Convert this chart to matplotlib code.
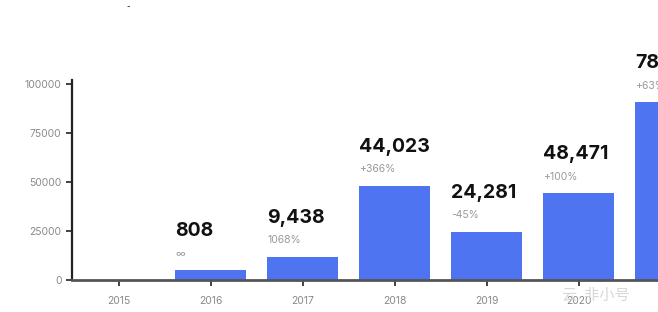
import matplotlib.pyplot as plt

# 数据
years = [2015, 2016, 2017, 2018, 2019, 2020, 2021]
bar_heights = [0, 5100, 11800, 48000, 24500, 44300, 90700]
value_labels = ['', '808', '9,438', '44,023', '24,281', '48,471', '78,000']
change_labels = ['', '∞', '1068%', '+366%', '-45%', '+100%', '+63%']

bar_color = '#4f74f2'
width = 0.77

fig = plt.figure(figsize=(6.58, 3.12), dpi=100)
ax = fig.add_axes([72 / 658, 32 / 312, 1 - 72 / 658, 200 / 312])

bars = ax.bar(years, bar_heights, width=width, color=bar_color, zorder=2)

# 막대 위 라벨 (오른쪽 끝은 그림 밖으로 잘림)
for x, h, v, c in zip(years, bar_heights, value_labels, change_labels):
    if not v:
        continue
    ax.annotate(v, (x - width / 2, h), xytext=(0, 28), textcoords='offset points',
                fontsize=14, fontweight='bold', family='Inter', color='#111111',
                ha='left', va='center', annotation_clip=False, clip_on=False)
    ax.annotate(c, (x - width / 2, h), xytext=(0, 12), textcoords='offset points',
                fontsize=7.5, family='Inter', color='#9a9a9a',
                ha='left', va='center', annotation_clip=False, clip_on=False)

ax.set_xlim(2014.49, 2020.86)
ax.set_ylim(0, 102040)
ax.set_xticks(years[:-1])
ax.set_yticks([0, 25000, 50000, 75000, 100000])
ax.set_yticklabels(['0', '25000', '50000', '75000', '100000'])

for s in ['top', 'right']:
    ax.spines[s].set_visible(False)
ax.spines['left'].set_color('#222222')
ax.spines['left'].set_linewidth(1.6)
ax.spines['bottom'].set_color('#555555')
ax.spines['bottom'].set_linewidth(2)
ax.spines['bottom'].set_zorder(3)

ax.tick_params(axis='both', colors='#222222', labelcolor='#8a8a8a', labelsize=7.5,
               length=4.5, width=1.2)
ax.tick_params(axis='x', pad=7)
ax.tick_params(axis='y', pad=3)
for lab in ax.get_xticklabels() + ax.get_yticklabels():
    lab.set_family('Inter')

# 水印 / 顶部残留
fig.text(562 / 658, 1 - 295 / 312, '云  非小号', family=['Noto Sans CJK SC', 'DejaVu Sans'],
         fontsize=11, color='#d4d4d4', ha='left', va='center', alpha=0.9)
fig.text(128 / 658, 1 - 6 / 312, '-', fontsize=7, color='#333333', ha='center', va='center')

fig.savefig('out.png', dpi=100)
